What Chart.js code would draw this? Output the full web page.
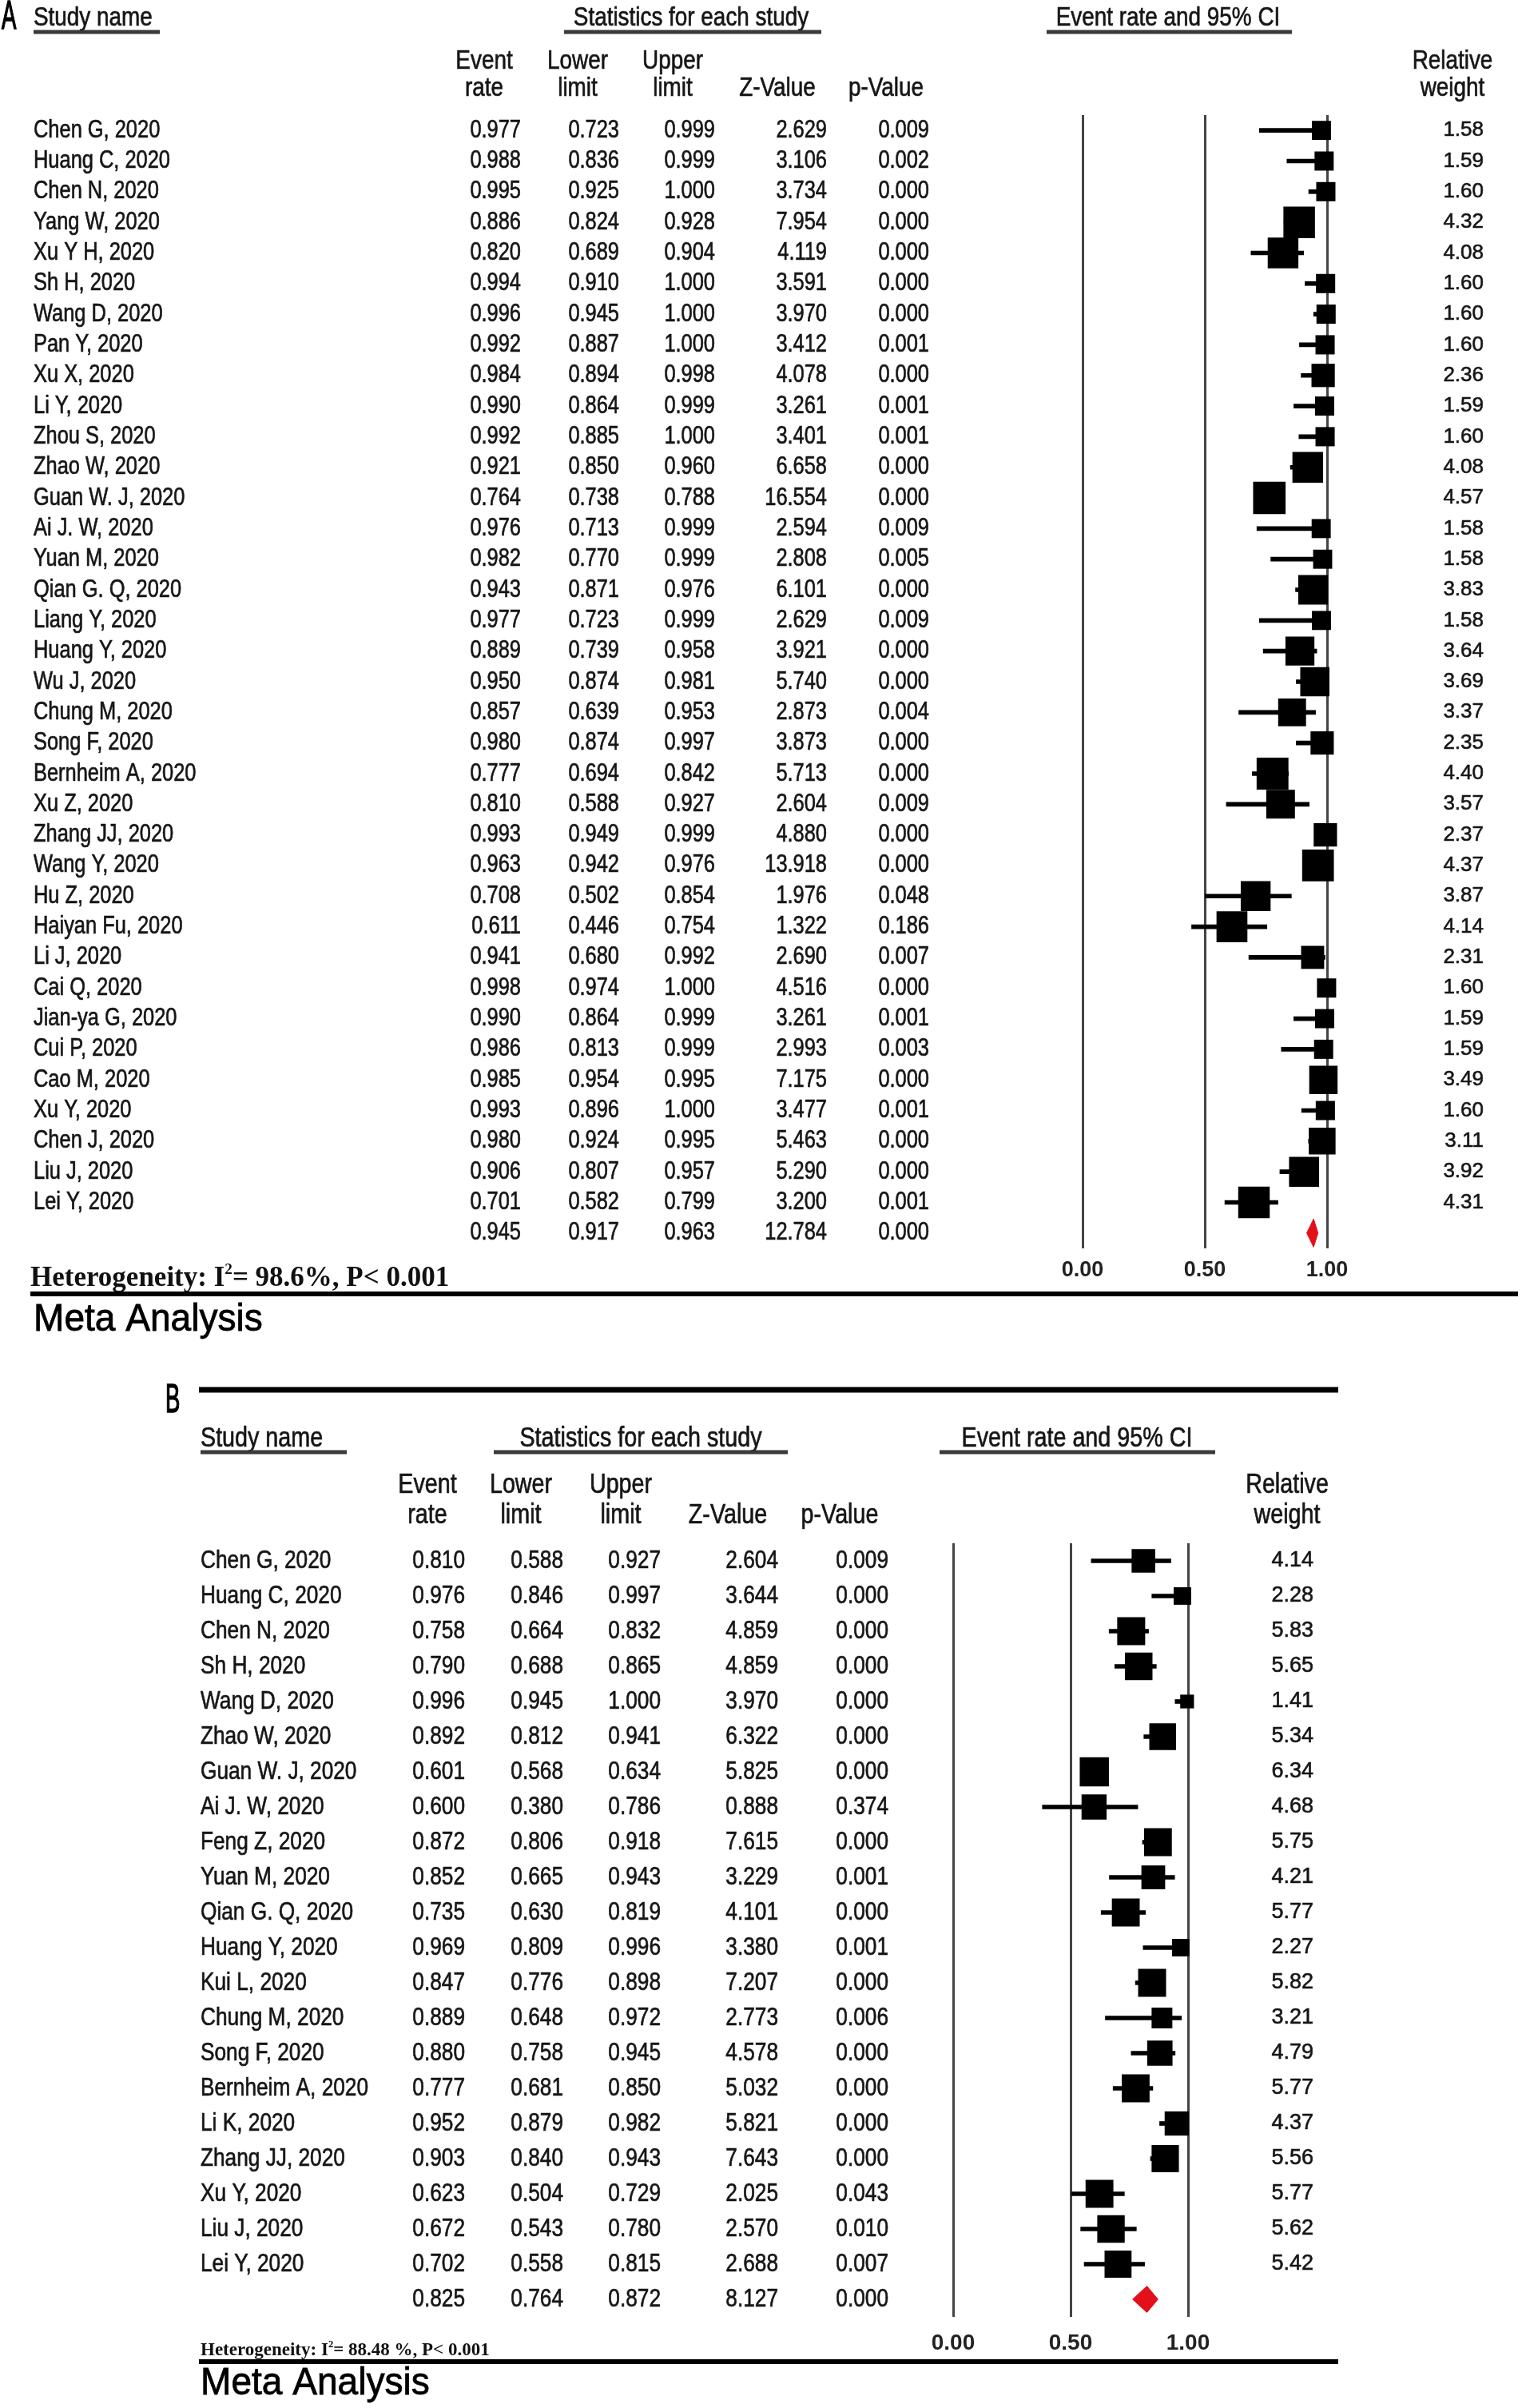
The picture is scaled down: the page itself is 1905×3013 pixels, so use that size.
<!DOCTYPE html>
<html>
<head>
<meta charset="utf-8">
<title>Meta Analysis forest plots</title>
<script src="https://cdn.jsdelivr.net/npm/chart.js@4.4.1/dist/chart.umd.min.js"></script>
<style>
    html, body { margin: 0; padding: 0; background: #fff; overflow: hidden; }
    canvas { display: block; }
</style>
</head>
<body>
<canvas id="chartA" width="1905" height="1690" style="width:1905px;height:1690px"></canvas>
<canvas id="chartB" width="1905" height="1323" style="width:1905px;height:1323px"></canvas>
<script>
// Panel A data
const studiesA = ['Chen G, 2020', 'Huang C, 2020', 'Chen N, 2020', 'Yang W, 2020', 'Xu Y H, 2020', 'Sh H, 2020',
    'Wang D, 2020', 'Pan Y, 2020', 'Xu X, 2020', 'Li Y, 2020', 'Zhou S, 2020', 'Zhao W, 2020', 'Guan W. J, 2020',
    'Ai J. W, 2020', 'Yuan M, 2020', 'Qian G. Q, 2020', 'Liang Y, 2020', 'Huang Y, 2020', 'Wu J, 2020',
    'Chung M, 2020', 'Song F, 2020', 'Bernheim A, 2020', 'Xu Z, 2020', 'Zhang JJ, 2020', 'Wang Y, 2020',
    'Hu Z, 2020', 'Haiyan Fu, 2020', 'Li J, 2020', 'Cai Q, 2020', 'Jian-ya G, 2020', 'Cui P, 2020',
    'Cao M, 2020', 'Xu Y, 2020', 'Chen J, 2020', 'Liu J, 2020', 'Lei Y, 2020'];
const rateA = [0.977, 0.988, 0.995, 0.886, 0.820, 0.994, 0.996, 0.992, 0.984, 0.990, 0.992, 0.921, 0.764,
    0.976, 0.982, 0.943, 0.977, 0.889, 0.950, 0.857, 0.980, 0.777, 0.810, 0.993, 0.963, 0.708, 0.611,
    0.941, 0.998, 0.990, 0.986, 0.985, 0.993, 0.980, 0.906, 0.701];
const lowerA = [0.723, 0.836, 0.925, 0.824, 0.689, 0.910, 0.945, 0.887, 0.894, 0.864, 0.885, 0.850, 0.738,
    0.713, 0.770, 0.871, 0.723, 0.739, 0.874, 0.639, 0.874, 0.694, 0.588, 0.949, 0.942, 0.502, 0.446,
    0.680, 0.974, 0.864, 0.813, 0.954, 0.896, 0.924, 0.807, 0.582];
const upperA = [0.999, 0.999, 1.000, 0.928, 0.904, 1.000, 1.000, 1.000, 0.998, 0.999, 1.000, 0.960, 0.788,
    0.999, 0.999, 0.976, 0.999, 0.958, 0.981, 0.953, 0.997, 0.842, 0.927, 0.999, 0.976, 0.854, 0.754,
    0.992, 1.000, 0.999, 0.999, 0.995, 1.000, 0.995, 0.957, 0.799];
const zA = [2.629, 3.106, 3.734, 7.954, 4.119, 3.591, 3.970, 3.412, 4.078, 3.261, 3.401, 6.658, 16.554,
    2.594, 2.808, 6.101, 2.629, 3.921, 5.740, 2.873, 3.873, 5.713, 2.604, 4.880, 13.918, 1.976, 1.322,
    2.690, 4.516, 3.261, 2.993, 7.175, 3.477, 5.463, 5.290, 3.200];
const pA = [0.009, 0.002, 0.000, 0.000, 0.000, 0.000, 0.000, 0.001, 0.000, 0.001, 0.001, 0.000, 0.000,
    0.009, 0.005, 0.000, 0.009, 0.000, 0.000, 0.004, 0.000, 0.000, 0.009, 0.000, 0.000, 0.048, 0.186,
    0.007, 0.000, 0.001, 0.003, 0.000, 0.001, 0.000, 0.000, 0.001];
const weightA = [1.58, 1.59, 1.60, 4.32, 4.08, 1.60, 1.60, 1.60, 2.36, 1.59, 1.60, 4.08, 4.57, 1.58, 1.58,
    3.83, 1.58, 3.64, 3.69, 3.37, 2.35, 4.40, 3.57, 2.37, 4.37, 3.87, 4.14, 2.31, 1.60, 1.59, 1.59, 3.49,
    1.60, 3.11, 3.92, 4.31];
const pooledA = [0.945, 0.917, 0.963, 12.784, 0.000];
const hetA = ['Heterogeneity: I', '2', '= 98.6%, P< 0.001'];

// Panel B data
const studiesB = ['Chen G, 2020', 'Huang C, 2020', 'Chen N, 2020', 'Sh H, 2020', 'Wang D, 2020',
    'Zhao W, 2020', 'Guan W. J, 2020', 'Ai J. W, 2020', 'Feng Z, 2020', 'Yuan M, 2020', 'Qian G. Q, 2020',
    'Huang Y, 2020', 'Kui L, 2020', 'Chung M, 2020', 'Song F, 2020', 'Bernheim A, 2020', 'Li K, 2020',
    'Zhang JJ, 2020', 'Xu Y, 2020', 'Liu J, 2020', 'Lei Y, 2020'];
const rateB = [0.810, 0.976, 0.758, 0.790, 0.996, 0.892, 0.601, 0.600, 0.872, 0.852, 0.735, 0.969, 0.847,
    0.889, 0.880, 0.777, 0.952, 0.903, 0.623, 0.672, 0.702];
const lowerB = [0.588, 0.846, 0.664, 0.688, 0.945, 0.812, 0.568, 0.380, 0.806, 0.665, 0.630, 0.809, 0.776,
    0.648, 0.758, 0.681, 0.879, 0.840, 0.504, 0.543, 0.558];
const upperB = [0.927, 0.997, 0.832, 0.865, 1.000, 0.941, 0.634, 0.786, 0.918, 0.943, 0.819, 0.996, 0.898,
    0.972, 0.945, 0.850, 0.982, 0.943, 0.729, 0.780, 0.815];
const zB = [2.604, 3.644, 4.859, 4.859, 3.970, 6.322, 5.825, 0.888, 7.615, 3.229, 4.101, 3.380, 7.207,
    2.773, 4.578, 5.032, 5.821, 7.643, 2.025, 2.570, 2.688];
const pB = [0.009, 0.000, 0.000, 0.000, 0.000, 0.000, 0.000, 0.374, 0.000, 0.001, 0.000, 0.001, 0.000,
    0.006, 0.000, 0.000, 0.000, 0.000, 0.043, 0.010, 0.007];
const weightB = [4.14, 2.28, 5.83, 5.65, 1.41, 5.34, 6.34, 4.68, 5.75, 4.21, 5.77, 2.27, 5.82, 3.21, 4.79,
    5.77, 4.37, 5.56, 5.77, 5.62, 5.42];
const pooledB = [0.825, 0.764, 0.872, 8.127, 0.000];
const hetB = ['Heterogeneity: I', '2', '= 88.48 %, P< 0.001'];

// Shared labels
const headTexts = ['Study name', 'Statistics for each study', 'Event rate and 95% CI'];
const colHead1 = ['Event', 'Lower', 'Upper', '', ''];
const colHead2 = ['rate', 'limit', 'limit', 'Z-Value', 'p-Value'];
const weightHead = ['Relative', 'weight'];
const xTicks = [0, 0.5, 1];
const footText = 'Meta Analysis';

const SANS = "'Liberation Sans', Arial, Helvetica, sans-serif";
const SERIF = "'Liberation Serif', 'Times New Roman', serif";
const NARROW = 0.82;
const INK = '#161616';
const RED = '#e3101a';

const layoutA = {
    tag: 'A', tagX: 2, tagY: 22, tagSize: 50,
    topRule: null,
    headY: 23, headSize: 34, underY: 40,
    heads: [{x: 42, align: 'left', u: [42, 200]}, {x: 865, align: 'center', u: [706, 1028]}, {x: 1462, align: 'center', u: [1310, 1617]}],
    colHeadY: [77, 111], colHeadX: [606, 723, 842, 973, 1109], weightHeadX: 1818,
    nameX: 42, colX: [652, 775, 895, 1035, 1163], weightX: 1857,
    bodySize: 31, weightSize: 26,
    hetX: 38, hetY: 1600, hetSize: 35,
    ruleY: 1619, ruleX: [38, 1900], ruleW: 6,
    metaX: 42, metaY: 1652, metaSize: 48,
    pad: {top: 144, left: 1355, right: 244, bottom: 68}, tickPad: 11, tickSize: 27,
    box: 19, whisker: 5, diamondH: 0.46
};

const layoutB = {
    tag: 'B', tagX: 207, tagY: 63, tagSize: 50,
    topRule: {y: 49, x: [249, 1675], w: 7},
    headY: 110, headSize: 35, underY: 127,
    heads: [{x: 251, align: 'left', u: [251, 434]}, {x: 802, align: 'center', u: [618, 986]}, {x: 1348, align: 'center', u: [1176, 1521]}],
    colHeadY: [168, 206], colHeadX: [535, 652, 777, 911, 1051], weightHeadX: 1611,
    nameX: 251, colX: [582, 705, 827, 974, 1112], weightX: 1644,
    bodySize: 32, weightSize: 27,
    hetX: 251, hetY: 1251, hetSize: 23,
    ruleY: 1265, ruleX: [249, 1675], ruleW: 6,
    metaX: 251, metaY: 1293, metaSize: 48,
    pad: {top: 241, left: 1193, right: 418, bottom: 54}, tickPad: 16, tickSize: 28,
    box: 14.5, whisker: 5, diamondH: 0.375
};

function text(ctx, str, x, y, size, opts) {
    opts = opts || {};
    const sx = opts.sx || NARROW;
    ctx.save();
    ctx.font = (opts.weight || 'normal') + ' ' + size + 'px ' + (opts.family || SANS);
    ctx.fillStyle = opts.color || INK;
    ctx.textAlign = opts.align || 'left';
    ctx.textBaseline = 'middle';
    ctx.translate(x, y);
    ctx.scale(sx, 1);
    ctx.fillText(str, 0, 0);
    if (opts.stroke) {
        // slightly heavier strokes, like the scanned original
        ctx.strokeStyle = opts.color || INK;
        ctx.lineWidth = opts.stroke;
        ctx.strokeText(str, 0, 0);
    }
    const w = ctx.measureText(str).width * sx;
    ctx.restore();
    return w;
}

function rule(ctx, x0, x1, y, w, color) {
    ctx.save();
    ctx.strokeStyle = color;
    ctx.lineWidth = w;
    ctx.beginPath();
    ctx.moveTo(x0, y);
    ctx.lineTo(x1, y);
    ctx.stroke();
    ctx.restore();
}

// Draws the statistics table around the plot area
function tablePlugin(p, L) {
    return {
        id: 'table' + L.tag,
        afterDraw(chart) {
            const ctx = chart.ctx;
            const yScale = chart.scales.y;
            const body = {stroke: 0.7};

            text(ctx, L.tag, L.tagX, L.tagY, L.tagSize, {sx: 0.55, color: '#000', stroke: 1.6});
            if (L.topRule) {
                rule(ctx, L.topRule.x[0], L.topRule.x[1], L.topRule.y, L.topRule.w, '#000');
            }

            headTexts.forEach((h, k) => {
                const hd = L.heads[k];
                text(ctx, h, hd.x, L.headY, L.headSize, {align: hd.align, stroke: 0.7});
                rule(ctx, hd.u[0], hd.u[1], L.underY, 5, '#3a3a3a');
            });

            colHead1.forEach((h, k) => {
                if (h) text(ctx, h, L.colHeadX[k], L.colHeadY[0], L.headSize, {align: 'center', stroke: 0.7});
                text(ctx, colHead2[k], L.colHeadX[k], L.colHeadY[1], L.headSize, {align: 'center', stroke: 0.7});
            });
            text(ctx, weightHead[0], L.weightHeadX, L.colHeadY[0], L.headSize, {align: 'center', stroke: 0.7});
            text(ctx, weightHead[1], L.weightHeadX, L.colHeadY[1], L.headSize, {align: 'center', stroke: 0.7});

            p.studies.forEach((name, i) => {
                const py = yScale.getPixelForValue(i);
                text(ctx, name, L.nameX, py, L.bodySize, body);
                const vals = [p.rate[i], p.lower[i], p.upper[i], p.z[i], p.pval[i]];
                vals.forEach((v, k) => text(ctx, v.toFixed(3), L.colX[k], py, L.bodySize, {align: 'right', stroke: 0.7}));
                text(ctx, p.weight[i].toFixed(2), L.weightX, py, L.weightSize, {align: 'right', sx: 1, stroke: 0.6});
            });

            const sy = yScale.getPixelForValue(p.studies.length);
            p.pooled.forEach((v, k) => text(ctx, v.toFixed(3), L.colX[k], sy, L.bodySize, {align: 'right', stroke: 0.7}));

            // heterogeneity line with superscript
            const serif = {family: SERIF, weight: 'bold', sx: 1, color: '#111'};
            let hx = L.hetX;
            hx += text(ctx, p.het[0], hx, L.hetY, L.hetSize, serif);
            hx += text(ctx, p.het[1], hx, L.hetY - L.hetSize * 0.3, L.hetSize * 0.55, serif);
            text(ctx, p.het[2], hx, L.hetY, L.hetSize, serif);

            rule(ctx, L.ruleX[0], L.ruleX[1], L.ruleY, L.ruleW, '#000');
            text(ctx, footText, L.metaX, L.metaY, L.metaSize, {sx: 0.96, color: '#000', stroke: 0.8});
        }
    };
}

function buildChart(canvasId, p, L) {
    const n = p.studies.length;
    const rows = p.studies.map((s, i) => i);
    const diamond = [
        {x: p.pooled[1], y: n},
        {x: p.pooled[0], y: n - L.diamondH},
        {x: p.pooled[2], y: n},
        {x: p.pooled[0], y: n + L.diamondH},
        {x: p.pooled[1], y: n}
    ];
    const boxRadius = c => L.box * Math.sqrt(p.weight[c.dataIndex]) / Math.SQRT2;

    return new Chart(document.getElementById(canvasId), {
        type: 'scatter',
        data: {
            datasets: [
                {
                    type: 'bar',
                    indexAxis: 'y',
                    data: rows.map(i => ({y: i, x: [p.lower[i], p.upper[i]]})),
                    backgroundColor: '#000',
                    borderWidth: 0,
                    barThickness: L.whisker,
                    clip: false,
                    order: 3
                },
                {
                    type: 'scatter',
                    data: rows.map(i => ({x: p.rate[i], y: i})),
                    pointStyle: 'rect',
                    pointRadius: boxRadius,
                    pointHoverRadius: boxRadius,
                    backgroundColor: '#000',
                    borderWidth: 0,
                    clip: false,
                    order: 2
                },
                {
                    type: 'line',
                    data: diamond,
                    fill: 'shape',
                    backgroundColor: RED,
                    borderColor: RED,
                    borderWidth: 1,
                    pointRadius: 0,
                    tension: 0,
                    order: 1
                }
            ]
        },
        options: {
            responsive: false,
            devicePixelRatio: 1,
            animation: false,
            events: [],
            layout: {padding: L.pad},
            plugins: {
                legend: {display: false},
                tooltip: {enabled: false}
            },
            scales: {
                x: {
                    type: 'linear',
                    min: 0,
                    max: 1,
                    offset: false,
                    border: {display: false},
                    grid: {color: '#444', lineWidth: 3, drawTicks: false, offset: false},
                    afterBuildTicks: s => { s.ticks = xTicks.map(v => ({value: v})); },
                    ticks: {
                        padding: L.tickPad,
                        color: '#222',
                        font: {family: SANS, size: L.tickSize, weight: 'bold'},
                        callback: v => v.toFixed(2)
                    },
                    afterFit: s => { s.height = 60; }
                },
                y: {
                    type: 'linear',
                    display: false,
                    min: -0.5,
                    max: n + 0.5,
                    reverse: true,
                    offset: false,
                    grid: {offset: false}
                }
            }
        },
        plugins: [tablePlugin(p, L)]
    });
}

const panelA = {studies: studiesA, rate: rateA, lower: lowerA, upper: upperA, z: zA, pval: pA, weight: weightA, pooled: pooledA, het: hetA};
const panelB = {studies: studiesB, rate: rateB, lower: lowerB, upper: upperB, z: zB, pval: pB, weight: weightB, pooled: pooledB, het: hetB};

buildChart('chartA', panelA, layoutA);
buildChart('chartB', panelB, layoutB);
</script>
</body>
</html>
